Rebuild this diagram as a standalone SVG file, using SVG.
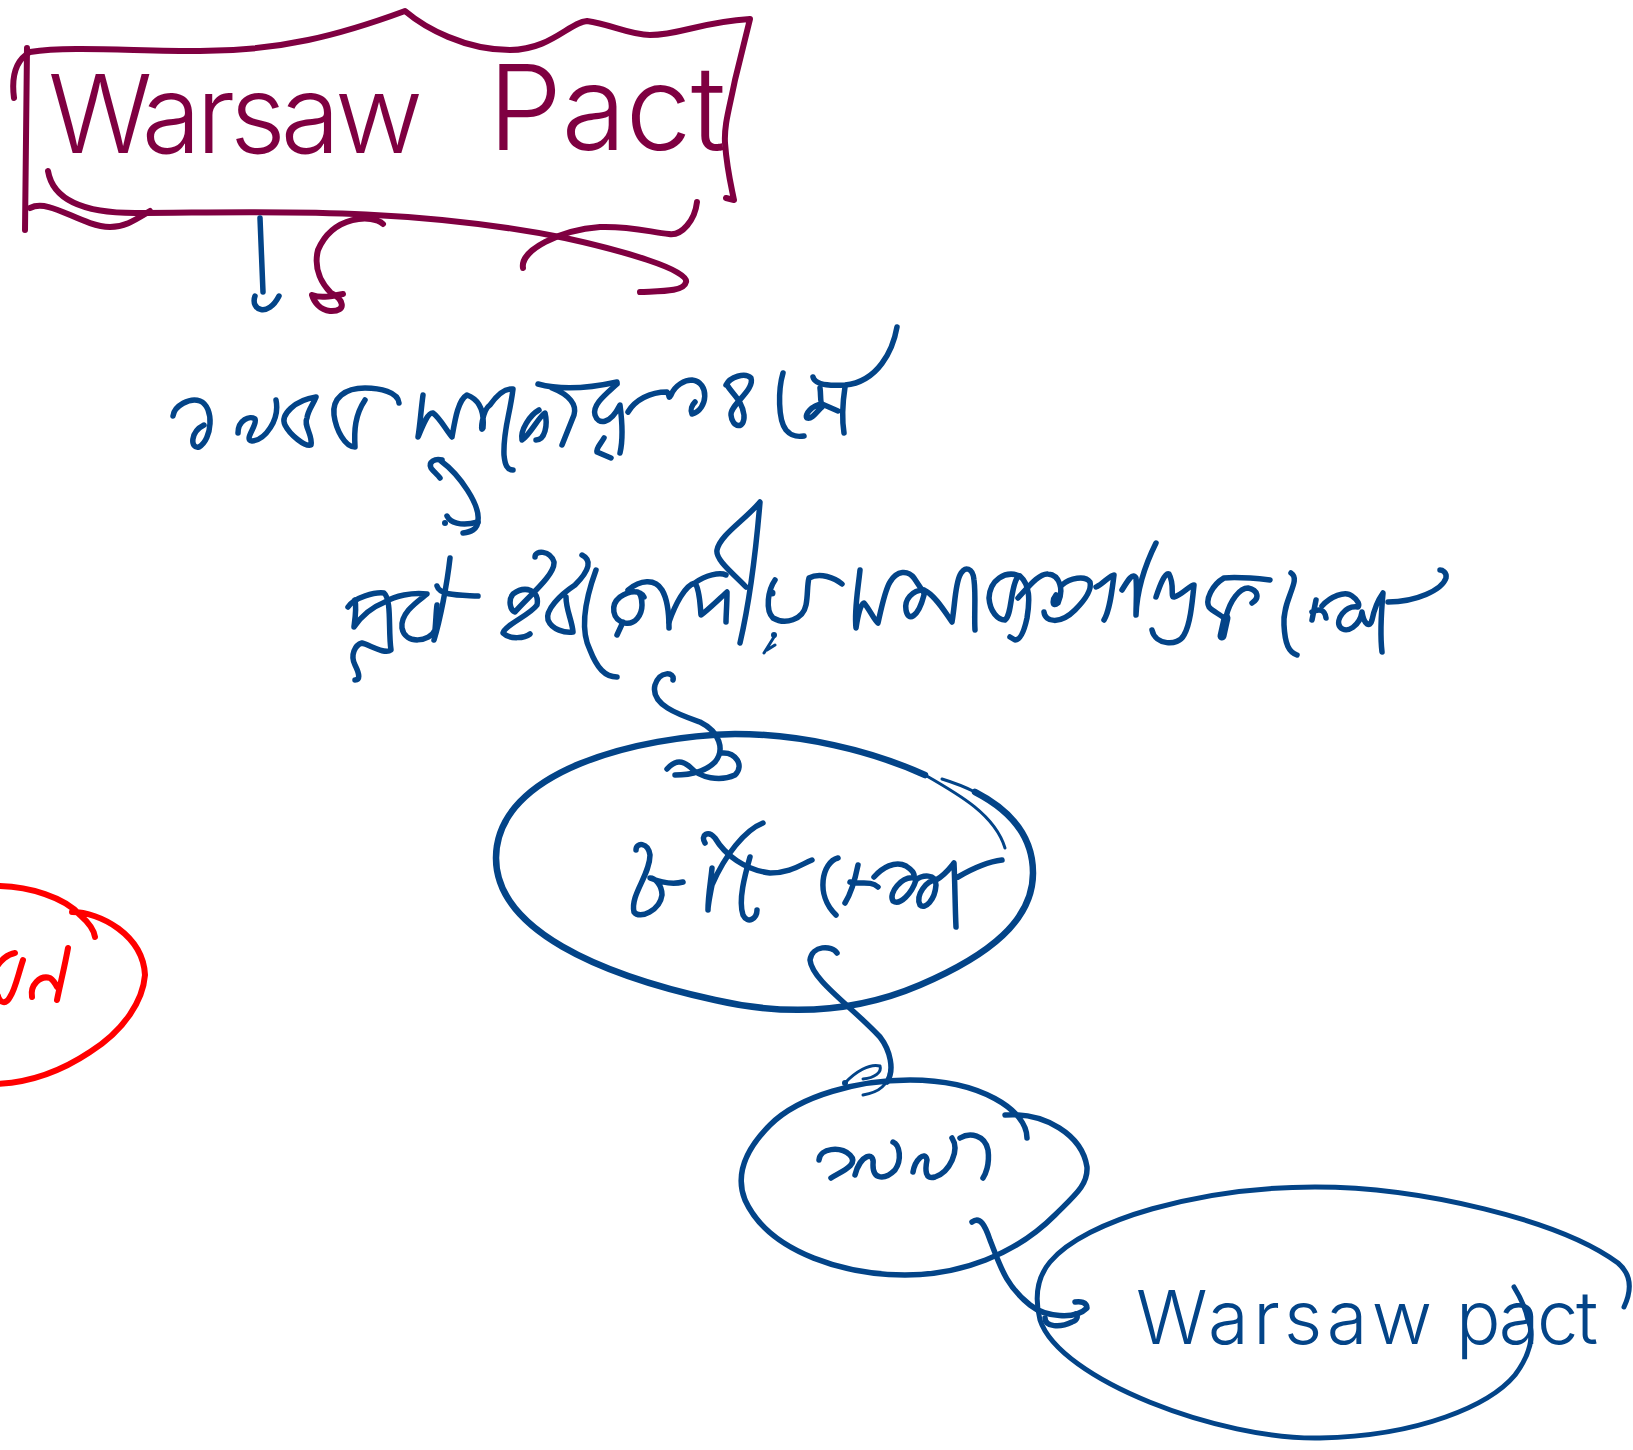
<svg xmlns="http://www.w3.org/2000/svg" width="1633" height="1450" viewBox="0 0 1633 1450">
<style>
path{fill:none;stroke-linecap:round;stroke-linejoin:round}
.m{stroke:#7f0041;stroke-width:6}
.b{stroke:#034488;stroke-width:5.5}
.e{stroke:#034488;stroke-width:6.5}
.n{stroke:#034488;stroke-width:5.5}
.t{stroke:#034488;stroke-width:3}
.r{stroke:#ff0000;stroke-width:6}
.k{fill:#034488}
text{font-family:"Inter","Liberation Sans",sans-serif;font-weight:300}
</style>
<rect width="1633" height="1450" fill="#fff"/>
<g id="title-node">
<path class="m" d="M27,48 L25,230"/>
<path class="m" d="M14,98 C11,75 16,60 30,52 C70,46 130,51 200,51 C280,51 340,35 405,11 C425,28 465,50 510,50 C550,50 570,22 587,21 C610,24 630,35 650,35 C680,35 700,22 750,19 L735,80 C729,110 724,125 725,143 C727,170 731,185 734,200 L726,198"/>
<path class="m" d="M30,208 C50,198 80,226 110,227 C125,227 135,220 150,211"/>
<path class="m" d="M48,171 C52,195 75,213 135,213 C250,213 400,205 565,238 C620,250 690,270 686,282 C684,292 660,291 640,292"/>
<path class="m" d="M697,202 C695,220 682,236 669,234 C650,232 630,226 600,227 C560,230 520,250 523,268"/>
<text x="48" y="153" font-size="108" fill="#7f0041" textLength="375">Warsaw</text>
<text x="488" y="150" font-size="118" fill="#7f0041" textLength="238">Pact</text>
</g>
<g id="connectors">
<path class="b" d="M260,218 L263,292"/>
<path class="b" d="M255,296 C250,310 268,318 279,296"/>
<path class="m" d="M383,224 C373,214 333,215 318,250 C313,270 323,285 331,293 C343,298 348,312 330,311 C320,310 314,302 312,295 C320,298 328,297 343,294"/>
<path class="b" d="M442,460 C435,458 428,462 431,468 C432,470 438,475 440,478"/>
<path class="b" d="M441,461 C460,475 480,505 478,520 C478,530 470,532 463,533"/>
<path class="b" d="M447,516 C450,522 460,527 478,522"/>
<circle class="k" cx="445" cy="523" r="3"/>
<path class="b" d="M673,680 C675,672 660,670 655,685 C650,705 680,715 700,722 C720,732 725,750 715,762 C705,772 690,775 675,775"/>
<path class="b" d="M667,769 C675,760 682,760 690,767 C700,778 720,782 735,775 C745,765 735,752 722,753"/>
<path class="b" d="M837,953 C832,945 812,945 810,960 C812,980 850,1005 880,1037 C890,1050 895,1070 887,1082"/>
<path class="t" d="M845,1083 C855,1072 870,1063 880,1066 C882,1072 875,1078 863,1079"/>
<path class="t" d="M890,1070 C888,1085 880,1092 863,1095"/>
<circle class="k" cx="845" cy="1083" r="3"/>
<path class="b" d="M972,1222 C980,1216 985,1225 990,1240 C1000,1265 1005,1285 1030,1305 C1045,1317 1075,1320 1087,1308 C1087,1302 1080,1301 1075,1302"/>
<path class="b" d="M1045,1318 C1045,1327 1060,1328 1072,1322 C1078,1320 1078,1316 1076,1314"/>
</g>
<g id="line-one">
<path class="b" d="M173,416 C174,406 190,397 200,401 C215,407 212,440 199,447 C190,449 190,432 204,425"/>
<path class="b" d="M238,433 C238,420 250,415 255,419 C258,425 243,440 252,441 C265,440 280,420 276,400"/>
<path class="b" d="M316,397 C295,400 280,415 285,425 C290,435 305,447 311,445 C313,435 303,425 307,418 C308,410 313,405 316,397"/>
<path class="b" d="M399,403 C398,392 380,388 365,388 C345,388 332,398 334,415 C336,430 345,447 355,447 C354,430 355,415 365,400"/>
<path class="b" d="M423,395 C421,410 420,425 418,437 C423,425 428,412 433,413 C440,418 446,430 452,437 C455,420 458,400 467,395 C475,398 485,405 483,428 C480,435 482,410 490,405 C497,395 505,388 513,389 C510,415 503,430 504,455 C505,465 507,470 513,470"/>
<path class="b" d="M538,384 C560,390 590,388 617,382 M552,388 C570,395 577,405 574,415 C570,425 566,435 562,445 M539,410 C530,415 520,430 522,440 C530,435 540,415 545,413 C548,425 545,440 536,440"/>
<path class="b" d="M617,384 C605,395 592,405 595,415 C598,425 610,425 620,405 C622,420 623,440 620,453 M604,438 C600,445 596,448 597,452 L611,458"/>
<path class="b" d="M628,412 C635,400 650,392 667,392 C670,395 668,400 671,395 C675,385 685,380 692,380 C710,382 708,410 692,414 C690,410 692,405 695,402"/>
<path class="b" d="M726,385 C730,377 745,372 751,378 C755,390 730,405 731,415 C732,428 745,430 744,415 C742,400 733,395 727,385"/>
<path class="b" d="M783,373 C778,390 778,420 786,430 C792,437 798,437 804,436"/>
<path class="b" d="M813,377 C815,385 830,386 845,385 C878,382 893,350 897,327"/>
<path class="b" d="M845,387 C843,400 842,420 844,433 M820,388 C821,395 820,402 822,404 L838,411 M822,404 C812,405 804,415 807,418 C812,420 818,410 822,407"/>
</g>
<g id="line-two">
<path class="b" d="M348,607 C355,597 375,592 384,593 C392,600 388,630 391,650 C385,655 370,645 362,643 C355,645 350,655 355,665 C360,675 360,680 355,680"/>
<path class="b" d="M355,600 C357,610 354,625 354,627 C360,618 370,608 385,602 C395,596 412,592 427,594 C420,600 400,612 402,628 C405,645 430,642 435,630 C436,620 436,612 437,605"/>
<path class="b" d="M450,558 C447,585 440,620 434,640 M437,586 C440,596 460,595 478,596"/>
<path class="b" d="M535,557 C535,550 550,550 554,562 C555,575 530,595 515,612 C510,610 508,600 513,594 C525,585 540,590 537,605 C530,615 505,625 503,633 C510,640 525,638 530,634"/>
<path class="b" d="M582,555 C592,560 590,570 575,585 C560,595 545,610 548,620 C552,630 565,633 573,632 C572,620 566,610 566,597"/>
<path class="b" d="M596,570 C585,600 580,630 590,650 C597,668 605,677 617,677"/>
<path class="b" d="M644,597 C640,590 630,590 620,597 C610,605 612,620 625,623 C635,625 642,615 642,605 C642,598 640,592 637,592 M623,622 L617,635"/>
<path class="b" d="M628,590 C640,580 655,578 662,590 C668,600 669,615 669,628"/>
<path class="b" d="M669,622 C675,605 685,585 695,583 C700,590 700,605 701,615 C708,610 718,600 727,592 C727,605 726,615 726,622 M695,583 C705,575 720,572 726,575"/>
<path class="b" d="M746,587 C735,575 715,560 717,550 C720,535 745,520 760,502 C756,550 750,600 740,643"/>
<path class="b" d="M775,580 C768,590 765,610 773,618 C785,625 803,620 806,605 C808,595 807,585 809,578 C820,572 835,578 842,584"/>
<circle class="k" cx="772" cy="593" r="3.5"/>
<path class="t" d="M774,637 L764,653 M775,645 L767,650"/>
<circle class="k" cx="774" cy="635" r="3"/>
<path class="b" d="M860,570 C858,590 854,610 856,628 C858,615 860,605 864,603 C870,610 874,620 878,623 C882,605 885,590 890,582 C897,570 908,570 914,578 L924,593"/>
<path class="b" d="M924,590 C912,590 904,600 906,610 C908,622 918,618 924,595 M924,590 C935,595 945,612 952,622 C955,605 955,585 960,575 C965,565 973,568 974,580 C976,595 974,615 975,630"/>
<path class="b" d="M1020,576 C1005,570 990,580 989,598 C990,612 998,620 1005,620 C1012,615 1010,590 1017,578 M1020,576 C1030,585 1030,600 1027,618 C1024,632 1020,640 1015,640 L1010,637"/>
<path class="b" d="M1018,598 C1030,585 1040,573 1048,574 C1060,575 1064,590 1058,603 C1052,608 1052,600 1056,595"/>
<path class="b" d="M1044,612 C1045,622 1060,625 1075,610 C1085,600 1092,590 1090,582 C1085,575 1070,578 1062,585"/>
<path class="b" d="M1096,587 C1102,585 1110,575 1114,575 C1112,590 1110,610 1104,620"/>
<path class="b" d="M1122,590 C1128,580 1133,572 1136,578 C1137,590 1136,605 1136,615 M1156,543 C1145,565 1137,590 1136,615"/>
<path class="b" d="M1156,597 C1160,585 1165,572 1169,574 C1175,585 1170,597 1174,597 C1182,595 1190,585 1194,585 C1192,605 1190,625 1184,635 C1178,647 1155,645 1152,630"/>
<path class="b" d="M1270,580 C1252,578 1235,577 1224,578 C1212,585 1205,600 1209,607 C1213,612 1222,615 1226,620 M1226,617 C1230,600 1240,588 1248,588 C1258,590 1260,598 1252,603"/>
<path class="b" style="stroke-width:9" d="M1226,618 L1222,636"/>
<path class="b" d="M1291,573 C1302,580 1282,600 1284,625 C1285,645 1289,652 1297,655"/>
<path class="b" d="M1316,600 L1312,620 M1312,612 C1320,608 1325,610 1326,618"/>
<path class="b" d="M1322,606 C1330,597 1345,590 1352,596 C1358,600 1360,605 1358,607 C1345,605 1335,620 1340,627 C1347,635 1360,625 1362,612 C1364,625 1370,628 1372,620 C1374,610 1378,600 1383,593 C1381,615 1380,635 1382,652"/>
<path class="b" d="M1388,602 C1416,602 1442,590 1446,578 C1447,572 1442,570 1440,570"/>
</g>
<g id="node-large">
<path class="t" d="M1005,848 C995,815 960,795 925,775"/>
<path class="e" d="M925,775 C870,750 800,734 735,734 C640,736 496,770 496,858 C496,930 600,975 715,1000 C780,1015 850,1015 920,985 C990,955 1033,920 1033,873 C1033,835 1010,810 975,792"/>
<path class="t" d="M975,792 C965,787 955,783 942,779"/>
<path class="b" d="M636,850 C636,842 648,842 650,855 C650,875 630,895 634,912 C640,920 660,910 662,895 C662,885 655,878 650,878 C660,882 672,885 683,882"/>
<path class="b" d="M708,910 C708,895 711,880 712,868 M763,823 C745,830 725,855 712,885 C710,895 708,905 708,910"/>
<path class="b" d="M705,843 C700,835 708,830 715,838 C725,855 745,870 770,873 C790,873 800,865 812,860"/>
<path class="b" d="M750,857 C745,875 738,900 743,915 C748,925 757,918 757,910"/>
<path class="b" d="M838,858 C822,862 815,895 836,915"/>
<path class="b" d="M858,865 C855,880 850,895 845,903 M850,882 C860,885 870,880 878,887"/>
<path class="b" d="M874,877 C882,868 895,860 906,866 C912,870 915,873 914,878 C902,876 888,893 893,901 C900,906 912,893 916,880 C922,875 936,873 936,885 C935,900 925,910 920,905 C915,895 927,880 936,880 C945,875 950,868 954,863 C955,885 955,905 956,927 M958,877 C970,870 985,862 1002,860"/>
</g>
<g id="node-medium">
<path class="n" d="M1027,1138 C1027,1110 980,1080 910,1080 C860,1080 800,1095 770,1125 C745,1150 735,1175 745,1200 C770,1255 850,1275 905,1275 C960,1275 1015,1255 1055,1215 C1075,1195 1088,1185 1087,1167 C1082,1135 1045,1112 1005,1115"/>
<path class="b" d="M819,1160 C820,1148 840,1146 850,1155 C860,1165 840,1172 831,1178"/>
<path class="b" d="M855,1175 C860,1155 875,1150 873,1165 C873,1180 885,1180 895,1170 C902,1160 900,1145 893,1142"/>
<path class="b" d="M913,1172 C915,1160 925,1150 927,1160 C925,1170 925,1180 935,1177 C950,1172 960,1150 952,1138 M960,1138 C970,1132 985,1135 988,1150 C990,1165 985,1175 983,1178"/>
</g>
<g id="node-warsaw-pact">
<path class="n" style="stroke-width:5" d="M1624,1307 C1632,1290 1632,1275 1618,1263 C1560,1220 1420,1187 1315,1187 C1200,1187 1085,1220 1050,1262 C1035,1280 1035,1300 1040,1320 C1060,1380 1220,1440 1320,1438 C1420,1436 1490,1405 1515,1375 C1530,1355 1535,1335 1528,1320 C1526,1310 1522,1300 1514,1287"/>
<text x="1136" y="1344" font-size="74" fill="#034488" textLength="296">Warsaw</text>
<text x="1456" y="1344" font-size="74" fill="#034488" textLength="142">pact</text>
</g>
<g id="node-red">
<path class="r" d="M-5,886 C30,886 65,898 80,915 C88,922 94,930 95,937 M72,912 C100,912 143,935 145,975 C143,1000 125,1030 90,1052 C60,1072 30,1083 -5,1084"/>
<path class="r" d="M-5,970 C0,960 8,954 15,953 M23,960 C18,975 15,990 10,997 C6,1005 0,1003 -2,996"/>
<path class="r" d="M68,948 C65,965 60,985 57,1000 M32,997 C30,985 40,975 50,978 C53,980 56,985 57,987"/>
</g>
</svg>
